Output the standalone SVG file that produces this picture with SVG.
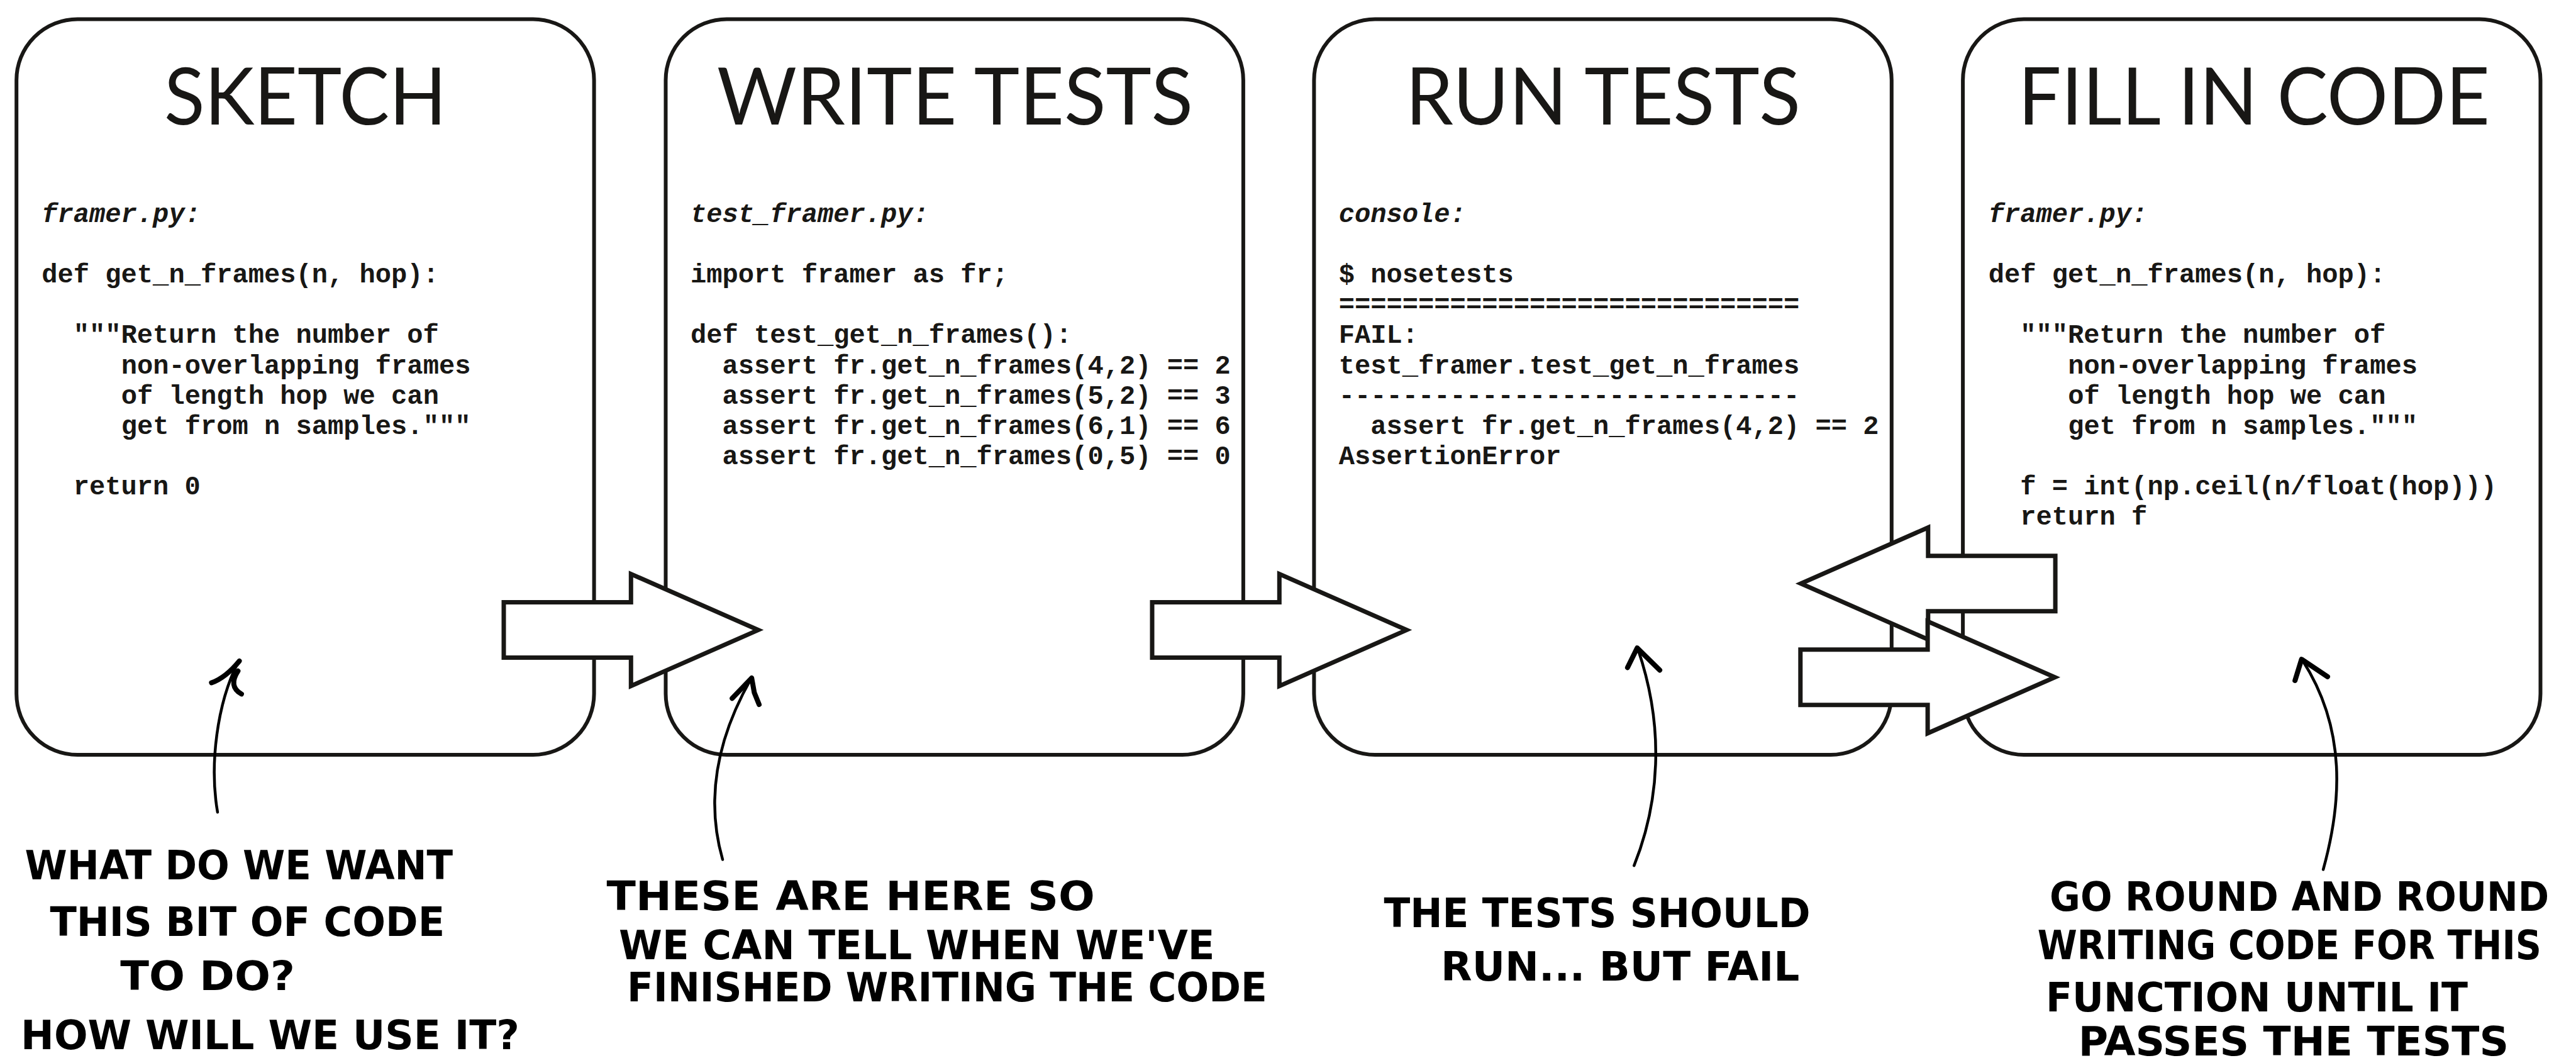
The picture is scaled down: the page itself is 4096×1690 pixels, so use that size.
<svg xmlns="http://www.w3.org/2000/svg" xmlns:xlink="http://www.w3.org/1999/xlink" width="4096" height="1690" viewBox="0 0 4096 1690">
<style>
.box{fill:#ffffff;stroke:#181715;stroke-width:6}
.title{font-family:Lato,"Open Sans","Liberation Sans",sans-serif;font-size:127px;font-weight:400;fill:#181715;text-anchor:middle}
.code{font-family:"Courier New","Liberation Mono",monospace;font-size:42.1px;font-weight:bold;fill:#181715}
.file{font-style:italic}
.blk{fill:#ffffff;stroke:#181715;stroke-width:7;stroke-linejoin:miter}
.stem{fill:none;stroke:#000;stroke-width:4.5;stroke-linecap:round}
.head{fill:none;stroke:#000;stroke-width:8;stroke-linecap:round;stroke-linejoin:round}
.hand{font-family:"Liberation Sans Narrow","DejaVu Sans Condensed","Liberation Sans",sans-serif;font-size:64px;font-weight:bold;fill:#000}
</style>
<defs>
<path id="blockArrow" d="M0,-44 H202.3 V-89 L404.6,0 L202.3,89 V44 H0 Z"/>
</defs>
<g id="node-sketch">
<rect class="box" x="26.2" y="30.4" width="918.4" height="1169.7" rx="97" ry="97"/>
<text class="title" x="485.4" y="198.2" textLength="449" lengthAdjust="spacingAndGlyphs">SKETCH</text>
<text class="code file" x="66.3" y="352.8">framer.py:</text>
<text class="code" x="66.3" y="449.1">def get_n_frames(n, hop):</text>
<text class="code" x="116.8" y="545.4">"""Return the number of</text>
<text class="code" x="192.7" y="593.6">non-overlapping frames</text>
<text class="code" x="192.7" y="641.7">of length hop we can</text>
<text class="code" x="192.7" y="689.9">get from n samples."""</text>
<text class="code" x="116.8" y="786.2">return 0</text>
</g>
<g id="node-write-tests">
<rect class="box" x="1058.5" y="30.4" width="918.4" height="1169.7" rx="97" ry="97"/>
<text class="title" x="1518.5" y="198.2" textLength="757" lengthAdjust="spacingAndGlyphs">WRITE TESTS</text>
<text class="code file" x="1097.9" y="352.8">test_framer.py:</text>
<text class="code" x="1097.9" y="449.1">import framer as fr;</text>
<text class="code" x="1097.9" y="545.4">def test_get_n_frames():</text>
<text class="code" x="1148.4" y="593.6">assert fr.get_n_frames(4,2) == 2</text>
<text class="code" x="1148.4" y="641.7">assert fr.get_n_frames(5,2) == 3</text>
<text class="code" x="1148.4" y="689.9">assert fr.get_n_frames(6,1) == 6</text>
<text class="code" x="1148.4" y="738.0">assert fr.get_n_frames(0,5) == 0</text>
</g>
<g id="node-run-tests">
<rect class="box" x="2089.4" y="30.4" width="918.4" height="1169.7" rx="97" ry="97"/>
<text class="title" x="2549" y="198.2" textLength="628" lengthAdjust="spacingAndGlyphs">RUN TESTS</text>
<text class="code file" x="2128.8" y="352.8">console:</text>
<text class="code" x="2128.8" y="449.1">$ nosetests</text>
<text class="code" x="2128.8" y="497.3">=============================</text>
<text class="code" x="2128.8" y="545.4">FAIL:</text>
<text class="code" x="2128.8" y="593.6">test_framer.test_get_n_frames</text>
<text class="code" x="2128.8" y="641.7">-----------------------------</text>
<text class="code" x="2179.3" y="689.9">assert fr.get_n_frames(4,2) == 2</text>
<text class="code" x="2128.8" y="738.0">AssertionError</text>
</g>
<g id="node-fill-in-code">
<rect class="box" x="3121.1" y="30.4" width="918.4" height="1169.7" rx="97" ry="97"/>
<text class="title" x="3584" y="198.2" textLength="750" lengthAdjust="spacingAndGlyphs">FILL IN CODE</text>
<text class="code file" x="3161.8" y="352.8">framer.py:</text>
<text class="code" x="3161.8" y="449.1">def get_n_frames(n, hop):</text>
<text class="code" x="3212.3" y="545.4">"""Return the number of</text>
<text class="code" x="3288.2" y="593.6">non-overlapping frames</text>
<text class="code" x="3288.2" y="641.7">of length hop we can</text>
<text class="code" x="3288.2" y="689.9">get from n samples."""</text>
<text class="code" x="3212.3" y="786.2">f = int(np.ceil(n/float(hop)))</text>
<text class="code" x="3212.3" y="834.3">return f</text>
</g>
<g id="connectors">
<use xlink:href="#blockArrow" class="blk" transform="translate(801,1001.6)"/>
<use xlink:href="#blockArrow" class="blk" transform="translate(1832,1001.6)"/>
<use xlink:href="#blockArrow" class="blk" transform="translate(3268.1,927.7) scale(-1,1)"/>
<use xlink:href="#blockArrow" class="blk" transform="translate(2862.8,1076.8)"/>
</g>
<g id="pointers">
<path class="stem" d="M345.9,1291.2 C332.8,1215.3 345.2,1118.6 378.4,1053"/>
<path class="head" d="M336.3,1085.5 Q359.1,1077.2 380.5,1050.9 M378.4,1066.8 Q362.5,1091 383.9,1103.4"/>
<path class="stem" d="M1149,1366.5 C1125.5,1284.3 1132.4,1187.6 1194.5,1078.5"/>
<path class="head" d="M1164.2,1110.3 L1195.2,1077.9 L1199.4,1101.3 L1207,1120"/>
<path class="stem" d="M2598.3,1376.2 C2637.7,1277.4 2648,1160 2604.5,1032.3"/>
<path class="head" d="M2587.9,1061.3 L2603.2,1030.2 L2639.1,1065.4"/>
<path class="stem" d="M3694.1,1382.4 C3723.1,1277.4 3732.1,1160 3660.9,1049.5"/>
<path class="head" d="M3649.2,1082 L3659.6,1048.2 L3701,1075.8"/>
</g>
<g id="notes">
<text class="hand" x="39.4" y="1397.6" textLength="680.8" lengthAdjust="spacingAndGlyphs">WHAT DO WE WANT</text>
<text class="hand" x="79.4" y="1488" textLength="627.7" lengthAdjust="spacingAndGlyphs">THIS BIT OF CODE</text>
<text class="hand" x="191.3" y="1573.6" textLength="277.6" lengthAdjust="spacingAndGlyphs">TO DO?</text>
<text class="hand" x="33.1" y="1668" textLength="792.7" lengthAdjust="spacingAndGlyphs">HOW WILL WE USE IT?</text>
<text class="hand" x="964.6" y="1446.6" textLength="776.1" lengthAdjust="spacingAndGlyphs">THESE ARE HERE SO</text>
<text class="hand" x="984" y="1524.6" textLength="947.4" lengthAdjust="spacingAndGlyphs">WE CAN TELL WHEN WE'VE</text>
<text class="hand" x="997.1" y="1591.6" textLength="1017.8" lengthAdjust="spacingAndGlyphs">FINISHED WRITING THE CODE</text>
<text class="hand" x="2200.6" y="1474.2" textLength="678.1" lengthAdjust="spacingAndGlyphs">THE TESTS SHOULD</text>
<text class="hand" x="2291" y="1559.1" textLength="570.3" lengthAdjust="spacingAndGlyphs">RUN... BUT FAIL</text>
<text class="hand" x="3259.1" y="1448" textLength="794.1" lengthAdjust="spacingAndGlyphs">GO ROUND AND ROUND</text>
<text class="hand" x="3239.8" y="1524.6" textLength="801" lengthAdjust="spacingAndGlyphs">WRITING CODE FOR THIS</text>
<text class="hand" x="3252.9" y="1607.5" textLength="671.2" lengthAdjust="spacingAndGlyphs">FUNCTION UNTIL IT</text>
<text class="hand" x="3304.7" y="1678" textLength="684.3" lengthAdjust="spacingAndGlyphs">PASSES THE TESTS</text>
</g>
</svg>
